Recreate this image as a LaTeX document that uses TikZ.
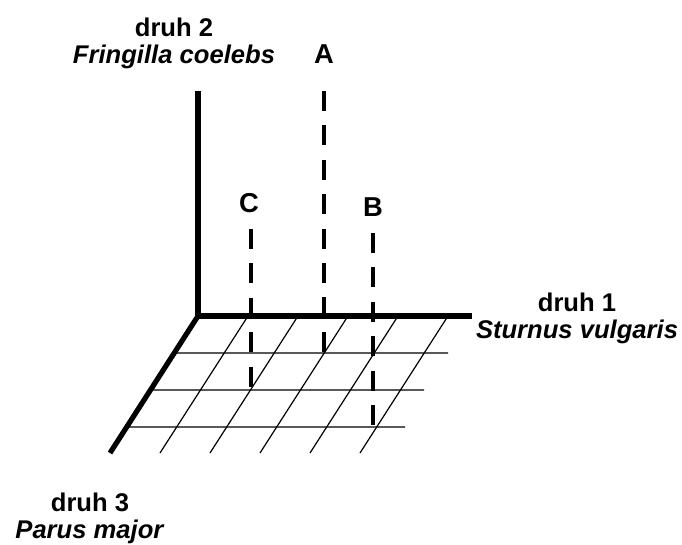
\documentclass[tikz,border=0pt]{standalone}
\usepackage{fontspec}
\setmainfont{Liberation Sans}
\usetikzlibrary{calc}

\begin{document}
\begin{tikzpicture}[
    x=0.75pt, y=-0.75pt,  % one unit = one pixel of the sketch
    axis/.style={line width=3.9pt},
    grid line/.style={line width=0.9pt},
    drop/.style={line width=3pt, dash pattern=on 15pt off 10.8pt},
    species/.style={font=\fontsize{19.2}{20.4}\selectfont\bfseries, align=center, inner sep=0pt},
    letter/.style={font=\fontsize{20.5}{22}\selectfont\bfseries, inner sep=0pt}
  ]
  \useasboundingbox (0,0) rectangle (682,545);

  % --- AXES POINTS ---
  \coordinate (O) at (198,316);
  \coordinate (ytop) at (198,91);
  \coordinate (xend) at (472,316);
  \coordinate (zend) at (110,453);

  % --- GRID IN THE BASE PLANE ---
  \foreach \i in {1,...,5}
    \draw[grid line] ($(O)+(50*\i,0)$) -- ++(-88,137);
  \foreach \j/\r in {1/448,2/424,3/405}
    \draw[grid line] ($(O)!\j/3.7!(zend)$) -- (\r,{316+37*\j});

  % --- AXES ---
  \draw[axis] (ytop) -- (O) -- (xend);
  \draw[axis] (O) -- (zend);

  % --- SAMPLES ---
  \coordinate (topA) at (324,91);
  \coordinate (ptA) at (324,353);
  \coordinate (topC) at (251,229);
  \coordinate (ptC) at (251,389);
  \coordinate (topB) at (373,233);
  \coordinate (ptB) at (373,427);

  \draw[drop] (topA) -- (ptA);
  \draw[drop] (topC) -- (ptC);
  \draw[drop] (topB) -- (ptB);

  \node[letter] (labA) at (324,54) {A};
  \node[letter] (labC) at (249,203) {C};
  \node[letter] (labB) at (373,207) {B};

  % --- AXIS LABELS ---
  \node[species] (sp2) at (174,43) {druh 2\\\textit{Fringilla coelebs}};
  \node[species] (sp1) at (577,318) {druh 1\\\textit{Sturnus vulgaris}};
  \node[species] (sp3) at (90,518) {druh 3\\\textit{Parus major}};

\end{tikzpicture}
\end{document}
